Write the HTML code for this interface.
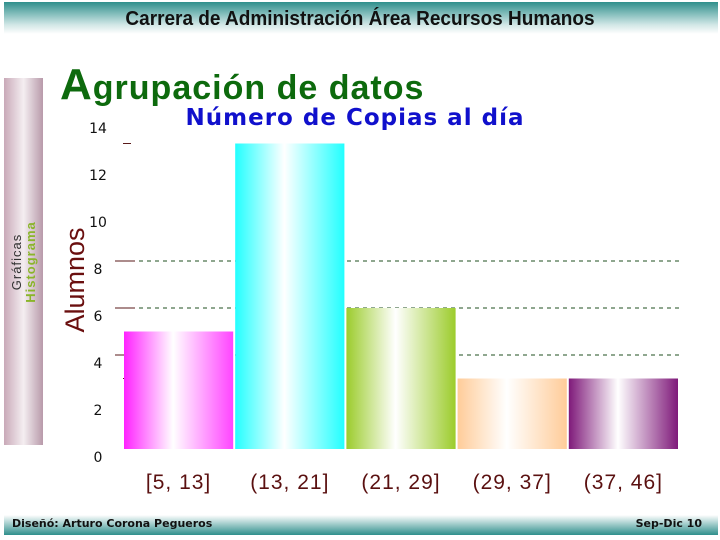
<!DOCTYPE html>
<html><head><meta charset="utf-8"><style>
body{margin:0;width:720px;height:540px;background:#fff;position:relative;overflow:hidden;font-family:"Liberation Sans",sans-serif}
.abs{position:absolute}
</style></head><body>
<div class="abs" style="left:4px;top:2px;width:714px;height:32px;background:linear-gradient(#2f8f8c,#cfe6e5 70%,#fff)"></div>
<div class="abs" style="left:0;top:8px;width:720px;text-align:center;font-size:20px;font-weight:bold;color:#111;transform:scaleX(0.95)">Carrera de Administración Área Recursos Humanos</div>
<div class="abs" style="left:4px;top:78px;width:39px;height:367px;background:linear-gradient(90deg,#c9a9b8,#f4eef1 50%,#b89aaa)"></div>
<div class="abs" style="left:24px;top:262px;transform:translate(-50%,-50%) rotate(-90deg);font-size:13px;line-height:14px;text-align:center;white-space:nowrap;letter-spacing:1px"><span style="color:#333">Gráficas</span><br><b style="color:#8ab52a">Histograma</b></div>
<div class="abs" style="left:60px;top:60px;font-size:34px;font-weight:bold;color:#0d6a0d;letter-spacing:1px;white-space:nowrap"><span style="font-size:44px">A</span>grupación de datos</div>
<div class="abs" style="left:4px;top:515px;width:714px;height:20px;background:linear-gradient(#fff,#2f8f8c)"></div>
<div class="abs" style="left:12px;top:517px;font-size:11px;font-weight:bold;font-family:'DejaVu Sans',sans-serif;color:#111">Diseñó: Arturo Corona Pegueros</div>
<div class="abs" style="right:18px;top:517px;font-size:11px;font-weight:bold;font-family:'DejaVu Sans',sans-serif;color:#111">Sep-Dic 10</div>
<svg class="abs" style="left:0;top:0" width="720" height="540" id="chart">
<defs>
<linearGradient id="g0"><stop offset="0" stop-color="#ff22ff"/><stop offset=".45" stop-color="#fff"/><stop offset="1" stop-color="#ff44ff"/></linearGradient>
<linearGradient id="g1"><stop offset="0" stop-color="#22ffff"/><stop offset=".45" stop-color="#fff"/><stop offset="1" stop-color="#22ffff"/></linearGradient>
<linearGradient id="g2"><stop offset="0" stop-color="#9ccc2c"/><stop offset=".45" stop-color="#fff"/><stop offset="1" stop-color="#9ccc2c"/></linearGradient>
<linearGradient id="g3"><stop offset="0" stop-color="#ffcc99"/><stop offset=".45" stop-color="#fff"/><stop offset="1" stop-color="#ffcc99"/></linearGradient>
<linearGradient id="g4"><stop offset="0" stop-color="#7f1a7a"/><stop offset=".45" stop-color="#fff"/><stop offset="1" stop-color="#7f1a7a"/></linearGradient>
</defs>
<text x="355" y="125" text-anchor="middle" font-size="23" font-weight="bold" fill="#1010cc" font-family="DejaVu Sans, sans-serif" letter-spacing="1">Número de Copias al día</text>
<text transform="translate(84,280) rotate(-90)" text-anchor="middle" font-size="27" fill="#6a0f0f">Alumnos</text>
</svg>
<script>
const categories=["[5, 13]","(13, 21]","(21, 29]","(29, 37]","(37, 46]"];
const counts=[5,13,6,3,3];
const yTicks=[0,2,4,6,8,10,12,14];
const gridValues=[8,6,4];
const minorMarks=[13,3];
const svg=document.getElementById('chart');
const NS='http://www.w3.org/2000/svg';
const x0=123,x1=679,yBase=449,pxPer=23.5;
const y=v=>yBase-v*pxPer;
const bw=(x1-x0)/categories.length;
const x=i=>x0+i*bw;
function mk(t,a){const e=document.createElementNS(NS,t);for(const k in a)e.setAttribute(k,a[k]);svg.appendChild(e);return e;}
gridValues.forEach(v=>{
 const g=mk('line',{x1:x0,x2:x1,y1:y(v),y2:y(v),stroke:'#1f4f1f','stroke-width':1,'stroke-dasharray':'4,4'});
 
 
 const t=mk('line',{x1:115,x2:135,y1:y(v),y2:y(v),stroke:'#5a1a1a','stroke-width':1});
 
 
});
minorMarks.forEach(v=>{
 const t=mk('line',{x1:123,x2:131,y1:y(v),y2:y(v),stroke:'#5a1a1a','stroke-width':1});
 
 
});
yTicks.forEach(v=>{
 const t=mk('text',{x:98,y:y(v)+13,'text-anchor':'middle','font-size':14,fill:'#111','font-family':'DejaVu Sans, sans-serif'});
 t.textContent=v;
 
 
});
counts.forEach((c,i)=>{
 const r=mk('rect',{x:x(i)+1,y:y(c),width:bw-2,height:y(0)-y(c),fill:'url(#g'+i+')'});
 
 
 const t=mk('text',{x:x(i)+bw/2,y:489,'text-anchor':'middle','font-size':21,'letter-spacing':1,fill:'#5a1010'});
 t.textContent=categories[i];
 
 
});
</script>
</body></html>
